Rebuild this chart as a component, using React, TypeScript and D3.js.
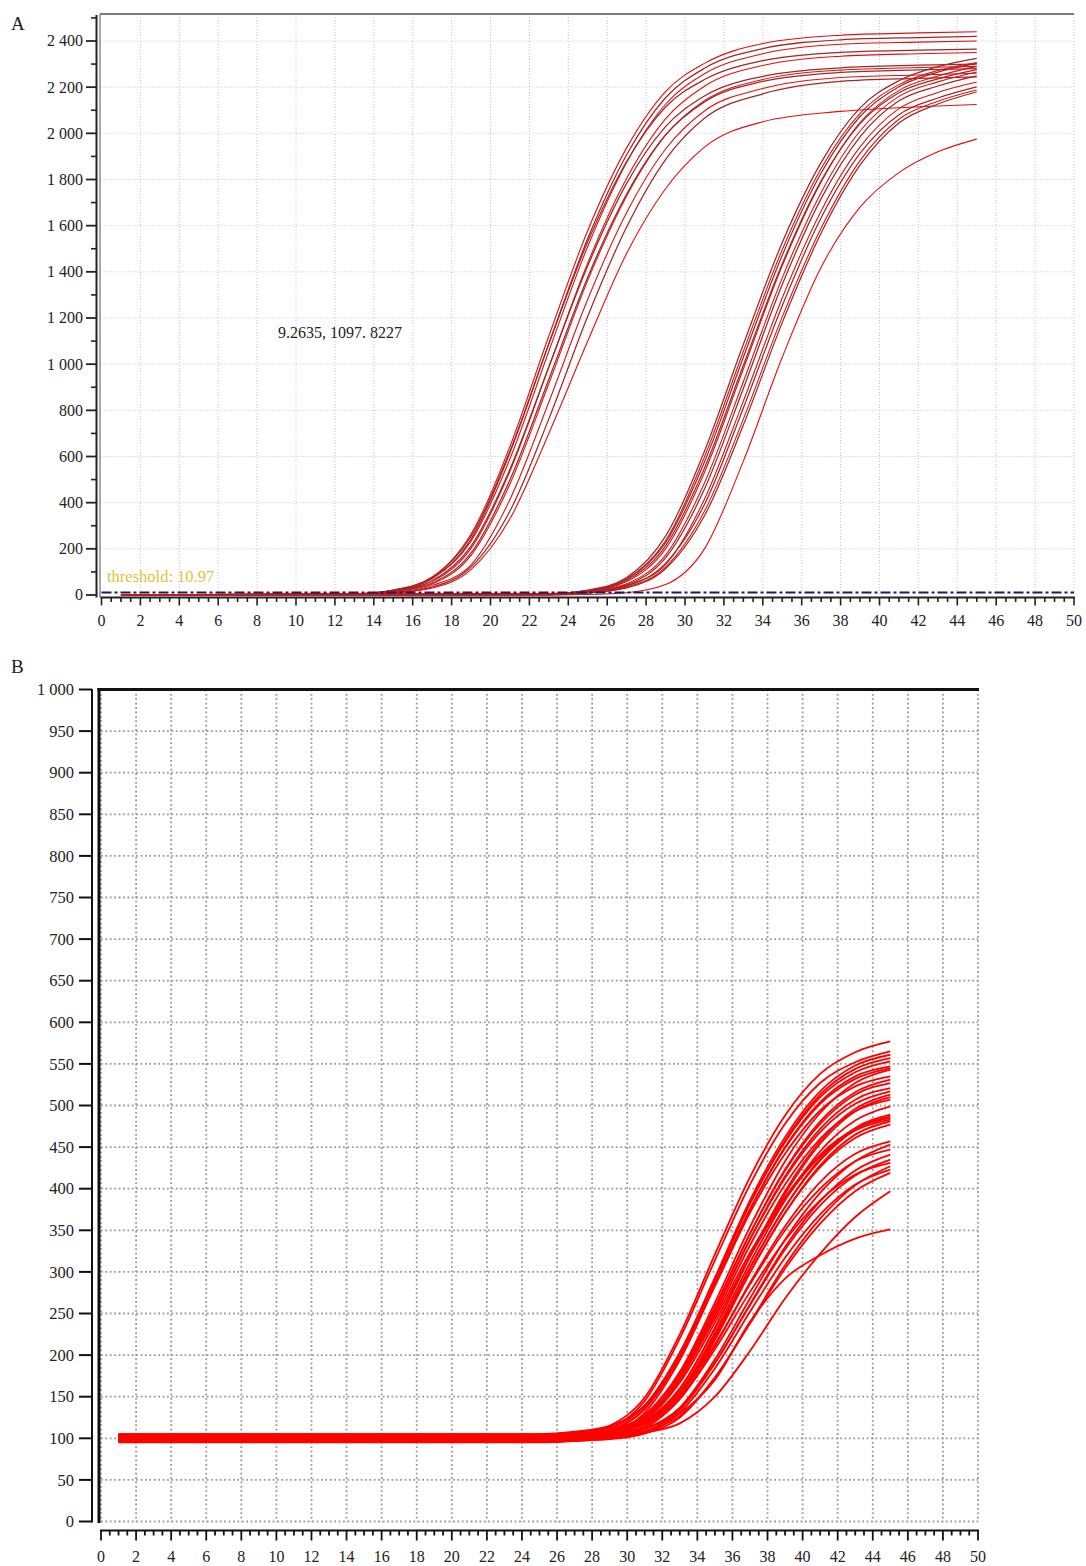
import React from "react";
import * as d3 from "d3";

// ---------- Panel A data ----------
const A_EARLY_CYCLES = [1, 13, 15, 17, 19, 21, 23, 25, 27, 29, 31, 34, 38, 42, 45];
const A_EARLY_1 = [0, 5, 22, 78, 264, 644, 1122, 1579, 1937, 2181, 2303, 2389, 2425, 2435, 2440];
const A_EARLY_2 = [0, 5, 19, 73, 242, 617, 1089, 1544, 1907, 2154, 2282, 2367, 2405, 2415, 2420];
const A_EARLY_3 = [0, 5, 19, 70, 233, 590, 1056, 1510, 1874, 2126, 2258, 2345, 2386, 2395, 2400];
const A_EARLY_4 = [0, 5, 21, 76, 255, 624, 1088, 1530, 1878, 2114, 2233, 2315, 2351, 2360, 2365];
const A_EARLY_5 = [0, 5, 16, 59, 202, 536, 987, 1438, 1805, 2063, 2204, 2294, 2334, 2345, 2350];
const A_EARLY_6 = [0, 5, 17, 62, 212, 545, 989, 1426, 1783, 2029, 2162, 2247, 2284, 2295, 2300];
const A_EARLY_7 = [0, 2, 14, 48, 172, 481, 916, 1363, 1729, 1992, 2141, 2233, 2274, 2285, 2290];
const A_EARLY_8 = [0, 3, 15, 52, 182, 499, 935, 1377, 1737, 1993, 2136, 2225, 2264, 2275, 2280];
const A_EARLY_9 = [0, 2, 11, 41, 131, 414, 836, 1281, 1657, 1932, 2097, 2194, 2242, 2253, 2260];
const A_EARLY_10 = [0, 1, 9, 34, 121, 364, 763, 1208, 1594, 1886, 2065, 2171, 2225, 2238, 2245];
const A_EARLY_11 = [0, 1, 8, 30, 110, 330, 700, 1100, 1480, 1760, 1940, 2050, 2095, 2115, 2125];
const A_EARLY = [A_EARLY_1, A_EARLY_2, A_EARLY_3, A_EARLY_4, A_EARLY_5, A_EARLY_6, A_EARLY_7, A_EARLY_8, A_EARLY_9, A_EARLY_10, A_EARLY_11];

const A_LATE_CYCLES = [1, 23, 25, 27, 29, 31, 33, 35, 37, 39, 41, 43, 45];
const A_LATE_1 = [0, 5, 21, 76, 255, 623, 1086, 1527, 1874, 2110, 2228, 2289, 2325];
const A_LATE_2 = [0, 5, 19, 70, 235, 598, 1055, 1496, 1848, 2087, 2211, 2272, 2307];
const A_LATE_3 = [0, 5, 19, 68, 227, 576, 1030, 1472, 1828, 2073, 2202, 2265, 2303];
const A_LATE_4 = [0, 5, 16, 58, 200, 531, 979, 1426, 1789, 2046, 2186, 2248, 2290];
const A_LATE_5 = [0, 5, 17, 63, 213, 549, 995, 1435, 1794, 2042, 2176, 2236, 2276];
const A_LATE_6 = [0, 2, 14, 49, 173, 485, 924, 1374, 1744, 2010, 2160, 2223, 2266];
const A_LATE_7 = [0, 2, 13, 44, 161, 459, 895, 1345, 1717, 1985, 2141, 2205, 2249];
const A_LATE_8 = [0, 2, 11, 41, 132, 415, 840, 1287, 1664, 1941, 2107, 2177, 2222];
const A_LATE_9 = [0, 2, 10, 38, 137, 392, 810, 1253, 1634, 1913, 2081, 2153, 2201];
const A_LATE_10 = [0, 1, 9, 34, 121, 363, 762, 1205, 1590, 1882, 2061, 2139, 2188];
const A_LATE_11 = [0, 1, 9, 31, 114, 343, 736, 1180, 1568, 1862, 2045, 2127, 2179];
const A_LATE_12 = [0, 0, 2, 10, 45, 200, 580, 1030, 1420, 1680, 1830, 1920, 1975];
const A_LATE = [A_LATE_1, A_LATE_2, A_LATE_3, A_LATE_4, A_LATE_5, A_LATE_6, A_LATE_7, A_LATE_8, A_LATE_9, A_LATE_10, A_LATE_11, A_LATE_12];

const A_THRESHOLD = 10.97;
const A_THRESHOLD_LABEL = "threshold: 10.97";
const A_ANNOTATION = "9.2635, 1097. 8227";
const A_Y_TICKS = [0, 200, 400, 600, 800, 1000, 1200, 1400, 1600, 1800, 2000, 2200, 2400];
const A_Y_MINOR = [100, 300, 500, 700, 900, 1100, 1300, 1500, 1700, 1900, 2100, 2300, 2500];

// ---------- Panel B data ----------
const B_CYCLES = [1, 25, 27, 29, 31, 33, 35, 37, 39, 41, 43, 45];
const B_1 = [100, 100, 104, 115, 149, 225, 321, 414, 488, 538, 564, 577];
const B_2 = [97, 97, 101, 111, 145, 220, 314, 405, 478, 527, 552, 565];
const B_3 = [103, 103, 106, 113, 139, 203, 293, 386, 462, 517, 548, 561];
const B_4 = [99, 99, 102, 109, 135, 199, 289, 382, 458, 513, 544, 557];
const B_5 = [105, 105, 108, 115, 140, 203, 291, 382, 456, 510, 540, 553];
const B_6 = [96, 96, 99, 106, 131, 194, 284, 375, 450, 504, 535, 547];
const B_7 = [101, 101, 103, 108, 128, 180, 263, 354, 433, 491, 527, 543];
const B_8 = [104, 104, 107, 113, 138, 198, 283, 371, 442, 494, 523, 535];
const B_9 = [98, 98, 100, 105, 124, 175, 257, 346, 423, 481, 516, 531];
const B_10 = [102, 102, 104, 109, 128, 178, 258, 346, 422, 478, 513, 527];
const B_11 = [95, 95, 97, 102, 121, 171, 251, 339, 415, 472, 507, 521];
const B_12 = [100, 100, 102, 107, 125, 174, 253, 339, 413, 468, 502, 517];
const B_13 = [103, 103, 104, 108, 120, 159, 233, 319, 397, 457, 496, 513];
const B_14 = [97, 97, 99, 104, 122, 170, 247, 332, 405, 460, 493, 507];
const B_15 = [101, 101, 102, 106, 118, 155, 227, 311, 386, 445, 482, 499];
const B_16 = [99, 99, 100, 104, 115, 152, 222, 305, 378, 436, 473, 489];
const B_17 = [104, 104, 106, 110, 127, 172, 244, 323, 390, 441, 472, 485];
const B_18 = [96, 96, 97, 100, 112, 149, 218, 299, 371, 428, 465, 481];
const B_19 = [102, 102, 103, 106, 118, 153, 221, 300, 371, 426, 461, 477];
const B_20 = [98, 98, 99, 102, 113, 147, 211, 287, 355, 408, 442, 457];
const B_21 = [100, 100, 101, 103, 111, 137, 195, 268, 339, 395, 433, 453];
const B_22 = [105, 105, 106, 109, 119, 152, 213, 285, 350, 400, 433, 447];
const B_23 = [97, 97, 98, 100, 108, 134, 190, 261, 330, 385, 422, 441];
const B_24 = [101, 101, 102, 104, 112, 136, 191, 260, 327, 380, 416, 435];
const B_25 = [103, 103, 104, 107, 117, 148, 207, 276, 338, 386, 417, 431];
const B_26 = [99, 99, 100, 101, 106, 125, 173, 239, 308, 364, 404, 427];
const B_27 = [96, 96, 97, 99, 106, 131, 184, 252, 317, 369, 405, 423];
const B_28 = [102, 102, 103, 104, 109, 127, 173, 238, 304, 358, 397, 419];
const B_29 = [100, 100, 100, 102, 107, 118, 150, 205, 268, 322, 366, 397];
const B_30 = [101, 101, 101, 104, 112, 130, 170, 240, 292, 320, 340, 351];
const B_31 = [103, 103, 104, 107, 119, 156, 224, 305, 378, 434, 471, 487];
const B_32 = [98, 98, 100, 104, 121, 167, 239, 319, 387, 439, 470, 483];
const B_33 = [100, 100, 103, 110, 135, 197, 285, 375, 449, 502, 532, 545];
const B_34 = [104, 104, 105, 109, 121, 160, 232, 318, 394, 454, 493, 510];
const B_SERIES = [B_1, B_2, B_3, B_4, B_5, B_6, B_7, B_8, B_9, B_10, B_11, B_12, B_13, B_14, B_15, B_16, B_17,
  B_18, B_19, B_20, B_21, B_22, B_23, B_24, B_25, B_26, B_27, B_28, B_29, B_30, B_31, B_32, B_33, B_34];

const B_Y_TICKS = [0, 50, 100, 150, 200, 250, 300, 350, 400, 450, 500, 550, 600, 650, 700, 750, 800, 850, 900, 950, 1000];

const X_TICKS = [0, 2, 4, 6, 8, 10, 12, 14, 16, 18, 20, 22, 24, 26, 28, 30, 32, 34, 36, 38, 40, 42, 44, 46, 48, 50];

const FONT = "'Liberation Serif', 'Times New Roman', serif";

function fmt(v: number): string {
  if (v >= 1000) return `${Math.floor(v / 1000)} ${String(v % 1000).padStart(3, "0")}`;
  return String(v);
}

export default function App() {
  const xA = d3.scaleLinear().domain([0, 50]).range([101.5, 1074]);
  const yA = d3.scaleLinear().domain([0, 2400]).range([595, 41]);
  const xB = d3.scaleLinear().domain([0, 50]).range([101, 978]);
  const yB = d3.scaleLinear().domain([0, 1000]).range([1521.5, 689.5]);

  const mkLine = (cycles: number[], xs: any, ys: any) =>
    d3.line<number>().x((_, i) => xs(cycles[i])).y((v) => ys(v)).curve(d3.curveMonotoneX);

  const lineEarly = mkLine(A_EARLY_CYCLES, xA, yA);
  const lineLate = mkLine(A_LATE_CYCLES, xA, yA);
  const lineB = mkLine(B_CYCLES, xB, yB);

  const minorX = d3.range(0, 50.001, 0.5);

  const aTop = 14;
  const aAxisY = 597.5;
  const bAxisY = 1530.5;

  const aColor = (i: number) => (i % 2 === 0 ? "#e01010" : "#9e2828");
  const aWidth = (i: number) => (i % 2 === 0 ? 1.1 : 1.25);

  return (
    <svg width={1086} height={1566} style={{ position: "absolute", left: 0, top: 0, background: "#fff" }} fontFamily={FONT}>
      <rect x={0} y={0} width={1086} height={1566} fill="#fff" />

      {/* ================= Panel A ================= */}
      <text x={11} y={30} fontSize={19} fill="#222">A</text>
      {A_Y_TICKS.filter((t) => t > 0).map((t) => (
        <line key={"agh" + t} x1={xA(0)} x2={xA(50)} y1={yA(t)} y2={yA(t)} stroke="#c4c4c4" strokeWidth={1} strokeDasharray="1,2" />
      ))}
      {X_TICKS.filter((t) => t > 0).map((t) => (
        <line key={"agv" + t} x1={xA(t)} x2={xA(t)} y1={aTop} y2={yA(0)} stroke="#c4c4c4" strokeWidth={1} strokeDasharray="1,2" />
      ))}
      {A_EARLY.map((s, i) => (
        <path key={"ae" + i} d={lineEarly(s) || ""} fill="none" stroke={aColor(i)} strokeWidth={aWidth(i)} />
      ))}
      {A_LATE.map((s, i) => (
        <path key={"al" + i} d={lineLate(s) || ""} fill="none" stroke={aColor(i + 1)} strokeWidth={aWidth(i + 1)} />
      ))}
      <line x1={xA(0)} x2={xA(50)} y1={yA(A_THRESHOLD)} y2={yA(A_THRESHOLD)} stroke="#1b1b6b" strokeWidth={2} strokeDasharray="10,3,3,3" />
      <text x={107} y={582} fontSize={16.5} fill="#e0c23c">{A_THRESHOLD_LABEL}</text>
      <text x={278} y={338} fontSize={16} fill="#222">{A_ANNOTATION}</text>
      <line x1={100} x2={1074} y1={aTop} y2={aTop} stroke="#7a7a7a" strokeWidth={2} />
      <line x1={100} x2={100} y1={aTop} y2={aAxisY} stroke="#8a8a8a" strokeWidth={1.5} />
      <line x1={96.5} x2={96.5} y1={15} y2={aAxisY} stroke="#222" strokeWidth={2} />
      {A_Y_TICKS.map((t) => (
        <g key={"ayt" + t}>
          <line x1={86} x2={96.5} y1={yA(t)} y2={yA(t)} stroke="#222" strokeWidth={1.8} />
          <text x={83} y={yA(t)} dy="0.34em" textAnchor="end" fontSize={16} fill="#222">{fmt(t)}</text>
        </g>
      ))}
      {A_Y_MINOR.map((t) => (
        <line key={"aym" + t} x1={91} x2={96.5} y1={yA(t)} y2={yA(t)} stroke="#222" strokeWidth={1.6} />
      ))}
      <line x1={xA(0) - 1} x2={xA(50) + 1} y1={aAxisY} y2={aAxisY} stroke="#222" strokeWidth={2} />
      {minorX.map((t) => (
        <line key={"axm" + t} x1={xA(t)} x2={xA(t)} y1={aAxisY} y2={aAxisY + (t % 2 === 0 ? 8 : 4.5)} stroke="#222" strokeWidth={1.6} />
      ))}
      {X_TICKS.map((t) => (
        <text key={"axl" + t} x={xA(t)} y={626} textAnchor="middle" fontSize={16} fill="#222">{t}</text>
      ))}

      {/* ================= Panel B ================= */}
      <text x={11} y={673} fontSize={19} fill="#222">B</text>
      {B_Y_TICKS.map((t) => (
        <line key={"bgh" + t} x1={xB(0)} x2={xB(50)} y1={yB(t)} y2={yB(t)} stroke="#9a9a9a" strokeWidth={1.8} strokeDasharray="1.8,2.6" />
      ))}
      {X_TICKS.map((t) => (
        <line key={"bgv" + t} x1={xB(t)} x2={xB(t)} y1={yB(1000)} y2={yB(0)} stroke="#9a9a9a" strokeWidth={1.8} strokeDasharray="1.8,2.6" />
      ))}
      {B_SERIES.map((s, i) => (
        <path key={"bs" + i} d={lineB(s) || ""} fill="none" stroke="#ff0000" strokeWidth={1.8} />
      ))}
      <line x1={97.5} x2={979} y1={689.5} y2={689.5} stroke="#111" strokeWidth={3} />
      <line x1={99} x2={99} y1={688} y2={1523} stroke="#111" strokeWidth={3} />
      <line x1={92} x2={92} y1={689} y2={1522.5} stroke="#111" strokeWidth={2} />
      {B_Y_TICKS.map((t) => (
        <g key={"byt" + t}>
          <line x1={79} x2={92} y1={yB(t)} y2={yB(t)} stroke="#111" strokeWidth={2} />
          <text x={74} y={yB(t)} dy="0.34em" textAnchor="end" fontSize={16.5} fill="#222">{fmt(t)}</text>
        </g>
      ))}
      <line x1={xB(0) - 1} x2={xB(50) + 1} y1={bAxisY} y2={bAxisY} stroke="#111" strokeWidth={2} />
      {minorX.map((t) => (
        <line key={"bxm" + t} x1={xB(t)} x2={xB(t)} y1={bAxisY} y2={bAxisY + (t % 2 === 0 ? 10 : 5)} stroke="#111" strokeWidth={1.8} />
      ))}
      {X_TICKS.map((t) => (
        <text key={"bxl" + t} x={xB(t)} y={1562} textAnchor="middle" fontSize={16} fill="#222">{t}</text>
      ))}
    </svg>
  );
}
